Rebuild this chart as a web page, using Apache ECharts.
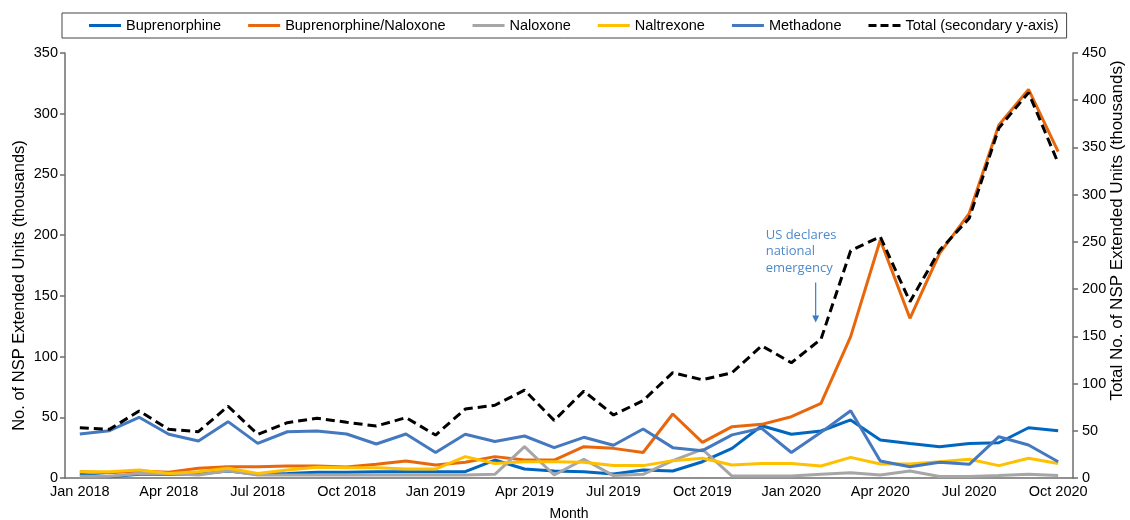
<!DOCTYPE html>
<html>
<head>
<meta charset="utf-8">
<script src="https://cdn.jsdelivr.net/npm/echarts@6/dist/echarts.min.js"></script>
<style>
  html, body { margin: 0; padding: 0; background: #fff; }
  #main { width: 1130px; height: 520px; }
</style>
</head>
<body>
<div id="main"></div>
<script>
// months, Jan 2018 - Oct 2020
var months = [
    'Jan 2018','Feb 2018','Mar 2018','Apr 2018','May 2018','Jun 2018','Jul 2018','Aug 2018','Sep 2018','Oct 2018','Nov 2018','Dec 2018',
    'Jan 2019','Feb 2019','Mar 2019','Apr 2019','May 2019','Jun 2019','Jul 2019','Aug 2019','Sep 2019','Oct 2019','Nov 2019','Dec 2019',
    'Jan 2020','Feb 2020','Mar 2020','Apr 2020','May 2020','Jun 2020','Jul 2020','Aug 2020','Sep 2020','Oct 2020'
];

// thousands of units, left axis
var buprenorphine = [3, 1, 3, 3, 3.3, 5.8, 3, 3.8, 4.7, 4.7, 5.2, 5.2,
    5.2, 5.2, 14.8, 7.4, 5.8, 5.2, 3.3, 6.6, 5.8, 13.4, 24.4, 43,
    36, 38.7, 47.8, 31.3, 28.5, 25.8, 28.5, 29, 41.4, 39];
var bupNaloxone = [5.2, 4.4, 5.8, 4.7, 8, 9.3, 9.3, 9.9, 9.9, 9, 11.3, 14,
    10.7, 12.9, 17.6, 14.8, 14.8, 25.8, 24.4, 21, 52.7, 29.4, 42.3, 44.2,
    50.5, 61.5, 116.4, 196, 131.5, 185, 218, 290.7, 320, 268.7];
var naloxone = [1.5, 1.5, 3.8, 3.8, 2.5, 6, 2.5, 2.5, 2.5, 2.5, 2.5, 2.5,
    2.5, 2.5, 3, 25.8, 2.5, 15.4, 2, 3, 14.3, 23.6, 1.6, 1.6,
    1.6, 3, 4.4, 2.5, 5.8, 1.2, 1.2, 2, 3, 2];
var naltrexone = [5.2, 5.2, 6.6, 3.8, 5.2, 8, 3.8, 6.6, 8.8, 8.5, 8.5, 7.4,
    7.4, 17.6, 12, 13.4, 13.4, 12.9, 10.2, 10.2, 14.3, 16.2, 10.7, 12,
    12, 9.9, 17, 11.5, 11.5, 13.4, 15.4, 10.2, 16.2, 12];
var methadone = [36.2, 39, 50, 36, 30.5, 46.4, 28.5, 38.1, 38.7, 36.2, 28, 36.2,
    21, 36, 30, 34.6, 25, 33.5, 27, 40.4, 25, 22.5, 35.5, 40.9,
    21, 37.6, 55.4, 14, 9.3, 12.9, 11.3, 34, 27.2, 13.4];
// right axis
var total = [53.3, 51.5, 71, 51.5, 49, 76, 46.2, 58.6, 63.2, 59, 55, 63.9,
    45.5, 73, 77, 93, 61, 92, 66.7, 82, 111.5, 104, 111.5, 140,
    122, 147, 240.7, 255.5, 186.7, 241, 275, 370.6, 408, 333.5];

var FONT = '"Liberation Sans", Arial, sans-serif';
var axisColor = '#6e6e6e';
var solidIcon = 'path://M0,0H32V3H0Z';
var dashIcon = 'path://M0,0H8V3H0ZM12,0H20V3H12ZM24,0H32V3H24Z';

var myChart = echarts.init(document.getElementById('main'));

function lineSeries(name, data, color, yIdx, dashed) {
    return {
        name: name,
        type: 'line',
        yAxisIndex: yIdx,
        data: data,
        symbol: 'none',
        animation: false,
        lineStyle: { color: color, width: 3, type: dashed ? [9, 5] : 'solid' },
        itemStyle: { color: color }
    };
}

var option = {
    textStyle: { fontFamily: FONT },
    legend: {
        left: 62,
        top: 13,
        padding: [5, 8, 5, 27],
        itemGap: 27,
        itemWidth: 32,
        itemHeight: 3,
        borderColor: '#444',
        borderWidth: 1,
        textStyle: { fontSize: 14.5, color: '#000', fontFamily: FONT },
        data: [
            { name: 'Buprenorphine', icon: solidIcon },
            { name: 'Buprenorphine/Naloxone', icon: solidIcon },
            { name: 'Naloxone', icon: solidIcon },
            { name: 'Naltrexone', icon: solidIcon },
            { name: 'Methadone', icon: solidIcon },
            { name: 'Total (secondary y-axis)', icon: dashIcon }
        ]
    },
    grid: {
        left: 65,
        right: 57,
        top: 53,
        bottom: 42,
        outerBoundsMode: 'none',
        containLabel: false
    },
    xAxis: {
        type: 'category',
        data: months,
        boundaryGap: true,
        name: 'Month',
        nameLocation: 'middle',
        nameGap: 29,
        nameMoveOverlap: false,
        nameTextStyle: { fontSize: 14, color: '#000' },
        axisLine: { lineStyle: { color: axisColor, width: 1.5 } },
        axisTick: { interval: 2, length: 5, lineStyle: { color: axisColor, width: 1.5 } },
        axisLabel: { interval: 2, fontSize: 14.5, color: '#000', margin: 6 }
    },
    yAxis: [
        {
            type: 'value',
            min: 0,
            max: 350,
            interval: 50,
            name: 'No. of NSP Extended Units (thousands)',
            nameLocation: 'middle',
            nameGap: 37,
            nameMoveOverlap: false,
            nameTextStyle: { fontSize: 16.5, color: '#000', padding: [0, 40, 0, 0] },
            axisLine: { show: true, lineStyle: { color: axisColor, width: 1.5 } },
            axisTick: { show: true, length: 5, lineStyle: { color: axisColor, width: 1.5 } },
            axisLabel: { fontSize: 14.5, color: '#000', margin: 7 },
            splitLine: { show: false }
        },
        {
            type: 'value',
            min: 0,
            max: 450,
            interval: 50,
            name: 'Total No. of NSP Extended Units (thousands)',
            nameLocation: 'middle',
            nameGap: 36,
            nameMoveOverlap: false,
            nameTextStyle: { fontSize: 17, color: '#000', padding: [0, 0, 0, 70] },
            axisLine: { show: true, lineStyle: { color: axisColor, width: 1.5 } },
            axisTick: { show: true, length: 5, lineStyle: { color: axisColor, width: 1.5 } },
            axisLabel: { fontSize: 14.5, color: '#000', margin: 9 },
            splitLine: { show: false }
        }
    ],
    series: [
        lineSeries('Buprenorphine', buprenorphine, '#0066c0', 0),
        lineSeries('Buprenorphine/Naloxone', bupNaloxone, '#e8670c', 0),
        lineSeries('Naloxone', naloxone, '#a6a6a6', 0),
        lineSeries('Naltrexone', naltrexone, '#ffc000', 0),
        lineSeries('Methadone', methadone, '#4479bf', 0),
        lineSeries('Total (secondary y-axis)', total, '#000000', 1, true)
    ]
};
myChart.setOption(option);

// annotation: national emergency (mid-March 2020, between Feb and Mar points)
var p0 = myChart.convertToPixel({ xAxisIndex: 0, yAxisIndex: 0 }, [24, 161]);
var p1 = myChart.convertToPixel({ xAxisIndex: 0, yAxisIndex: 0 }, [25, 128]);
var ax = p0[0] + 0.82 * (p1[0] - p0[0]);
var yTop = p0[1], yBot = p1[1];
var textTop = myChart.convertToPixel({ yAxisIndex: 0 }, 207);
myChart.setOption({
    graphic: [
        {
            type: 'text',
            left: ax - 50,
            top: textTop,
            style: {
                text: 'US declares\nnational\nemergency',
                fill: '#4f8acb',
                font: '13px "Open Sans", "Noto Sans", sans-serif',
                lineHeight: 16.5
            }
        },
        {
            type: 'line',
            shape: { x1: ax, y1: yTop, x2: ax, y2: yBot - 6 },
            style: { stroke: '#3b7dc4', lineWidth: 1.2 }
        },
        {
            type: 'polygon',
            shape: { points: [[ax - 3.5, yBot - 7], [ax + 3.5, yBot - 7], [ax, yBot]] },
            style: { fill: '#3b7dc4' }
        }
    ]
});
</script>
</body>
</html>
